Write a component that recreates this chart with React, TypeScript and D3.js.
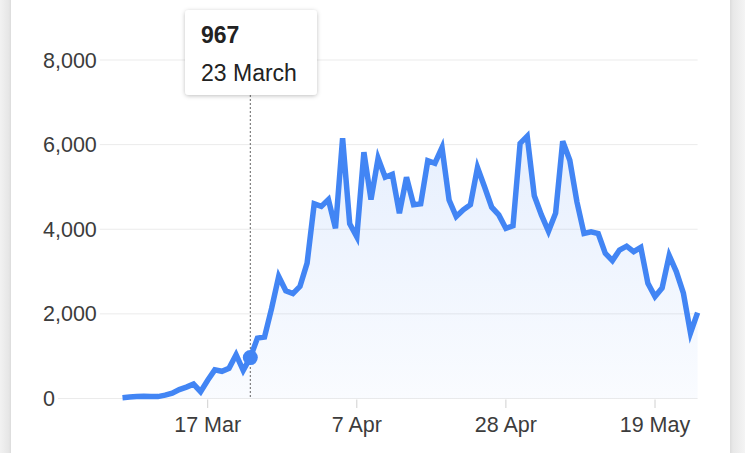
import React from "react";
import * as d3 from "d3";

const startDate = "2020-03-05";
const cases: number[] = [
  // Mar 5 - Mar 31
  20, 35, 45, 55, 45, 45, 80, 125, 210, 270, 340, 160, 430, 676, 643, 714, 1035, 665, 967, 1427, 1452, 2129, 2885, 2546, 2480, 2650, 3200,
  // Apr 1 - Apr 30
  4600, 4540, 4700, 4020, 6150, 4130, 3820, 5820, 4700, 5680, 5230, 5300, 4380, 5230, 4580, 4600, 5620, 5560, 5930, 4690, 4300, 4460, 4580, 5460, 5000, 4520, 4340, 4020, 4080, 6030,
  // May 1 - May 25
  6200, 4790, 4340, 3950, 4380, 6080, 5630, 4650, 3900, 3940, 3900, 3430, 3260, 3510, 3600, 3470, 3570, 2720, 2410, 2610, 3380, 3000, 2490, 1550, 2030,
];
const yTicks = [0, 2000, 4000, 6000, 8000];
const xTickDates = ["2020-03-17", "2020-04-07", "2020-04-28", "2020-05-19"];
const xTickLabels = ["17 Mar", "7 Apr", "28 Apr", "19 May"];
const highlightDate = "2020-03-23";
const highlightLabel = "23 March";

const W = 745;
const H = 453;
const FONT = "'Liberation Sans', Arial, Helvetica, sans-serif";

export default function App() {
  const parse = d3.utcParse("%Y-%m-%d");
  const t0 = parse(startDate)!;
  const data = cases.map((v, i) => ({ date: d3.utcDay.offset(t0, i), value: v }));
  const last = data[data.length - 1].date;

  const x = d3.scaleUtc().domain([t0, last]).range([122.5, 697.6]);
  const y = d3.scaleLinear().domain([0, 8000]).range([398.5, 60]);

  const line = d3
    .line<{ date: Date; value: number }>()
    .x((d) => x(d.date))
    .y((d) => y(d.value));
  const area = d3
    .area<{ date: Date; value: number }>()
    .x((d) => x(d.date))
    .y0(y(0))
    .y1((d) => y(d.value));

  const fmt = d3.format(",");
  const hd = parse(highlightDate)!;
  const hItem = data.find((d) => +d.date === +hd)!;
  const hx = x(hd);

  const labelCharW = (s: string) => {
    let w = 0;
    for (const c of s) w += c === "," ? 0.278 : 0.556;
    return w * 21.5;
  };

  return (
    <svg
      width={W}
      height={H}
      style={{ position: "absolute", left: 0, top: 0, display: "block", background: "#fff" }}
      fontFamily={FONT}
    >
      <defs>
        <linearGradient id="fillGrad" x1="0" y1="0" x2="0" y2="1">
          <stop offset="0%" stopColor="#4285f4" stopOpacity={0.13} />
          <stop offset="100%" stopColor="#4285f4" stopOpacity={0.03} />
        </linearGradient>
        <linearGradient id="leftEdge" x1="0" y1="0" x2="1" y2="0">
          <stop offset="0%" stopColor="#f2f2f2" />
          <stop offset="80%" stopColor="#e6e6e6" />
          <stop offset="100%" stopColor="#dcdcdc" />
        </linearGradient>
        <linearGradient id="rightEdge" x1="0" y1="0" x2="1" y2="0">
          <stop offset="0%" stopColor="#dcdcdc" />
          <stop offset="20%" stopColor="#e8e8e8" />
          <stop offset="100%" stopColor="#f4f4f4" />
        </linearGradient>
        <filter id="shadow" x="-20%" y="-20%" width="140%" height="150%">
          <feDropShadow dx="0" dy="1" stdDeviation="2" floodColor="#000" floodOpacity={0.25} />
        </filter>
      </defs>

      <rect x={0} y={0} width={11} height={H} fill="url(#leftEdge)" />
      <rect x={730} y={0} width={15} height={H} fill="url(#rightEdge)" />

      {/* gridlines and y labels */}
      {yTicks.map((t) => (
        <g key={t}>
          <line
            x1={43 + labelCharW(fmt(t)) + 3}
            x2={697.6}
            y1={y(t)}
            y2={y(t)}
            stroke="#ebebeb"
            strokeWidth={1}
          />
          <text x={43} y={y(t) + 7.5} fontSize={21.5} fill="#3c3c3c">
            {fmt(t)}
          </text>
        </g>
      ))}

      {/* x ticks */}
      {xTickDates.map((d, i) => {
        const xx = x(parse(d)!);
        return (
          <g key={d}>
            <line x1={xx} x2={xx} y1={399.5} y2={408} stroke="#d0d0d0" strokeWidth={1} />
            <text x={xx} y={431.5} fontSize={21.5} fill="#3c3c3c" textAnchor="middle">
              {xTickLabels[i]}
            </text>
          </g>
        );
      })}

      <path d={area(data)!} fill="url(#fillGrad)" />
      <path d={line(data)!} fill="none" stroke="#4285f4" strokeWidth={5.5} strokeLinejoin="miter" />

      {/* highlight */}
      <line x1={hx} x2={hx} y1={95} y2={399} stroke="#666" strokeWidth={1} strokeDasharray="2,2" />
      <circle cx={hx} cy={y(hItem.value)} r={7.5} fill="#4285f4" />

      <g>
        <rect x={185} y={10} width={132} height={85} rx={4} fill="#fff" filter="url(#shadow)" />
        <text x={201} y={43} fontSize={23} fontWeight="bold" fill="#222">
          {fmt(hItem.value)}
        </text>
        <text x={201} y={81} fontSize={23} fill="#222">
          {highlightLabel}
        </text>
      </g>
    </svg>
  );
}
